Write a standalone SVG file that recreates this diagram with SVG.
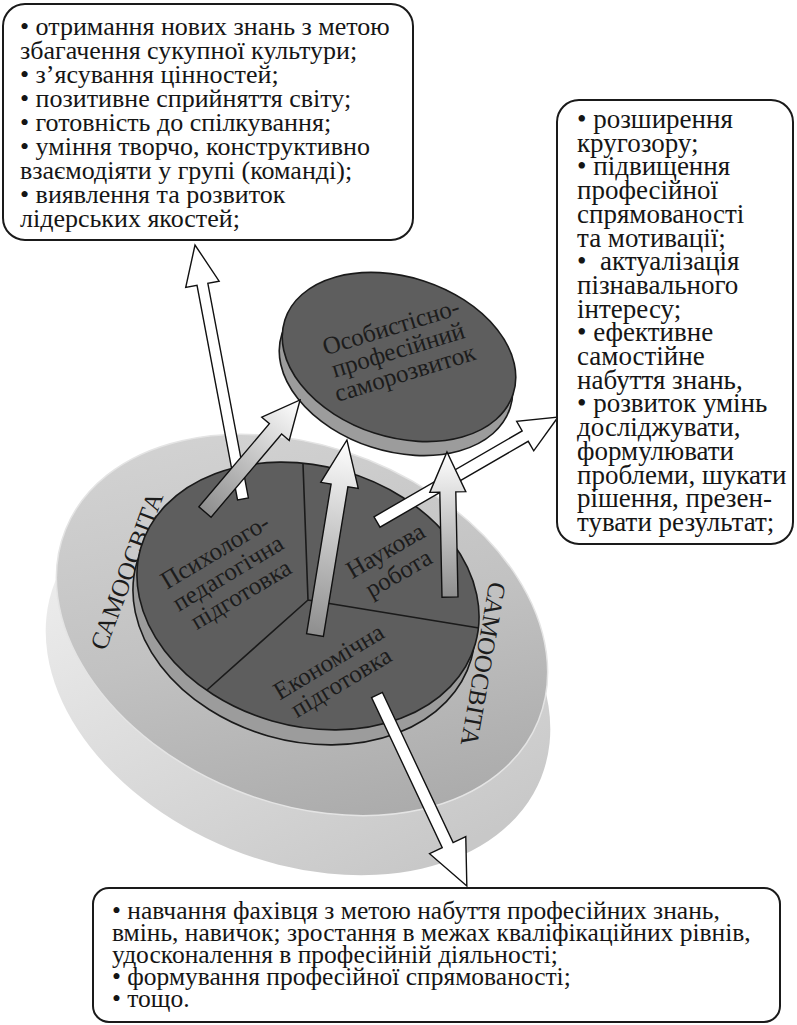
<svg xmlns="http://www.w3.org/2000/svg" width="797" height="1025" viewBox="0 0 797 1025">
<style>
.box{fill:#fff;stroke:#1a1a1a;stroke-width:2}
.t{font-family:"Liberation Serif","Times New Roman",serif;font-size:26px;fill:#151515}
.tr{font-family:"Liberation Serif","Times New Roman",serif;font-size:27px;fill:#151515}
.tb{font-family:"Liberation Serif","Times New Roman",serif;font-size:25.5px;fill:#151515}
.lbl{font-family:"Liberation Serif","Times New Roman",serif;font-size:25px;fill:#1c1c1c;text-anchor:middle}
.dark{fill:#5e5e5e;stroke:#1a1a1a;stroke-width:1.6}
.rim{fill:#9c9c9c;stroke:#1a1a1a;stroke-width:1.6}
.line{stroke:#1a1a1a;stroke-width:1.6;fill:none}
.aw{fill:#fff;stroke:#111;stroke-width:1.4}
.ag{fill:url(#ga);stroke:#111;stroke-width:1.4}
</style>
<defs>
<linearGradient id="ga" x1="0" y1="0" x2="1" y2="0">
<stop offset="0" stop-color="#8e8e8e"/>
<stop offset="1" stop-color="#ffffff"/>
</linearGradient>
<linearGradient id="gtop" x1="0" y1="0" x2="1" y2="1">
<stop offset="0" stop-color="#d8d8d8"/>
<stop offset="0.5" stop-color="#c2c2c2"/>
<stop offset="1" stop-color="#a2a2a2"/>
</linearGradient>
<linearGradient id="grim" x1="0" y1="0" x2="1" y2="0.6">
<stop offset="0" stop-color="#f6f6f6"/>
<stop offset="1" stop-color="#c8c8c8"/>
</linearGradient>
</defs>

<g id="base">
<ellipse cx="0" cy="0" rx="262" ry="182" transform="translate(298,680) rotate(22)" fill="url(#grim)"/>
<ellipse cx="0" cy="0" rx="255" ry="178" transform="translate(302,625) rotate(22)" fill="url(#gtop)" stroke="#e4e4e4" stroke-width="1.5"/>
<text class="lbl" transform="translate(127,571) rotate(-69.5)" y="8">САМООСВІТА</text>
<text class="lbl" transform="translate(483,664) rotate(100)" y="8">САМООСВІТА</text>
</g>

<g id="pie">
<ellipse class="rim" cx="0" cy="0" rx="174" ry="130" transform="translate(304,611) rotate(16)"/>
<ellipse class="dark" cx="0" cy="0" rx="174" ry="130" transform="translate(308,596) rotate(16)"/>
<path class="line" d="M303,464 L308,600 L207,690 M308,600 L479,628"/>
<g transform="translate(228,573) rotate(-31)">
<text class="lbl" y="-17">Психолого-</text>
<text class="lbl" y="8">педагогічна</text>
<text class="lbl" y="33">підготовка</text>
</g>
<g transform="translate(392,562) rotate(-30)">
<text class="lbl" y="-5">Наукова</text>
<text class="lbl" y="21">робота</text>
</g>
<g transform="translate(335,672) rotate(-31)">
<text class="lbl" y="-4">Економічна</text>
<text class="lbl" y="20">підготовка</text>
</g>
</g>

<g id="goal">
<ellipse class="rim" cx="0" cy="0" rx="120" ry="80" transform="translate(396,371) rotate(18)"/>
<ellipse class="dark" cx="0" cy="0" rx="120" ry="80" transform="translate(399,357) rotate(18)"/>
<g transform="translate(398,350) rotate(-17)">
<text class="lbl" y="-16">Особистісно-</text>
<text class="lbl" y="8">професійний</text>
<text class="lbl" y="32">саморозвиток</text>
</g>
</g>

<g id="connectors">
<polygon class="aw" transform="translate(243,499) rotate(-100.7)" points="0,-5.5 218.5,-5.5 218.5,-17 258.5,0 218.5,17 218.5,5.5 0,5.5"/>
<polygon class="aw" transform="translate(377,522) rotate(-30.1)" points="0,-6 171.3,-6 171.3,-17 209.3,0 171.3,17 171.3,6 0,6"/>
<polygon class="aw" transform="translate(377,695) rotate(64.8)" points="0,-6 166,-6 166,-20 211,0 166,20 166,6 0,6"/>
<polygon class="ag" transform="translate(205,512) rotate(-49.7)" points="0,-8 109,-8 109,-18 147,0 109,18 109,8 0,8"/>
<polygon class="ag" transform="translate(315,635) rotate(-80.7)" points="0,-8.5 151.6,-8.5 151.6,-19 197.6,0 151.6,19 151.6,8.5 0,8.5"/>
<polygon class="ag" transform="translate(450,597) rotate(-91.2)" points="0,-8 105,-8 105,-18 145,0 105,18 105,8 0,8"/>
</g>

<g id="box-top">
<rect class="box" x="3" y="4" width="410" height="236" rx="22"/>
<text class="t" x="20" y="35">• отримання нових знань з метою</text>
<text class="t" x="20" y="59">збагачення сукупної культури;</text>
<text class="t" x="20" y="83">• з’ясування цінностей;</text>
<text class="t" x="20" y="107">• позитивне сприйняття світу;</text>
<text class="t" x="20" y="131">• готовність до спілкування;</text>
<text class="t" x="20" y="155">• уміння творчо, конструктивно</text>
<text class="t" x="20" y="179">взаємодіяти у групі (команді);</text>
<text class="t" x="20" y="203">• виявлення та розвиток</text>
<text class="t" x="20" y="227">лідерських якостей;</text>
</g>

<g id="box-right">
<rect class="box" x="557" y="100" width="236" height="444" rx="22"/>
<text class="tr" x="577" y="128">• розширення</text>
<text class="tr" x="577" y="151.7">кругозору;</text>
<text class="tr" x="577" y="175.4">• підвищення</text>
<text class="tr" x="577" y="199.1">професійної</text>
<text class="tr" x="577" y="222.8">спрямованості</text>
<text class="tr" x="577" y="246.5">та мотивації;</text>
<text class="tr" x="577" y="270.2" style="white-space:pre">•  актуалізація</text>
<text class="tr" x="577" y="293.9">пізнавального</text>
<text class="tr" x="577" y="317.6">інтересу;</text>
<text class="tr" x="577" y="341.3">• ефективне</text>
<text class="tr" x="577" y="365">самостійне</text>
<text class="tr" x="577" y="388.7">набуття знань,</text>
<text class="tr" x="577" y="412.4">• розвиток умінь</text>
<text class="tr" x="577" y="436.1">досліджувати,</text>
<text class="tr" x="577" y="459.8">формулювати</text>
<text class="tr" x="577" y="483.5">проблеми, шукати</text>
<text class="tr" x="577" y="507.2">рішення, презен-</text>
<text class="tr" x="577" y="530.9">тувати результат;</text>
</g>

<g id="box-bottom">
<rect class="box" x="93" y="888" width="687" height="134" rx="16"/>
<text class="tb" x="112" y="919">• навчання фахівця з метою набуття професійних знань,</text>
<text class="tb" x="112" y="941">вмінь, навичок; зростання в межах кваліфікаційних рівнів,</text>
<text class="tb" x="112" y="963">удосконалення в професійній діяльності;</text>
<text class="tb" x="112" y="985">• формування професійної спрямованості;</text>
<text class="tb" x="112" y="1007">• тощо.</text>
</g>
</svg>
